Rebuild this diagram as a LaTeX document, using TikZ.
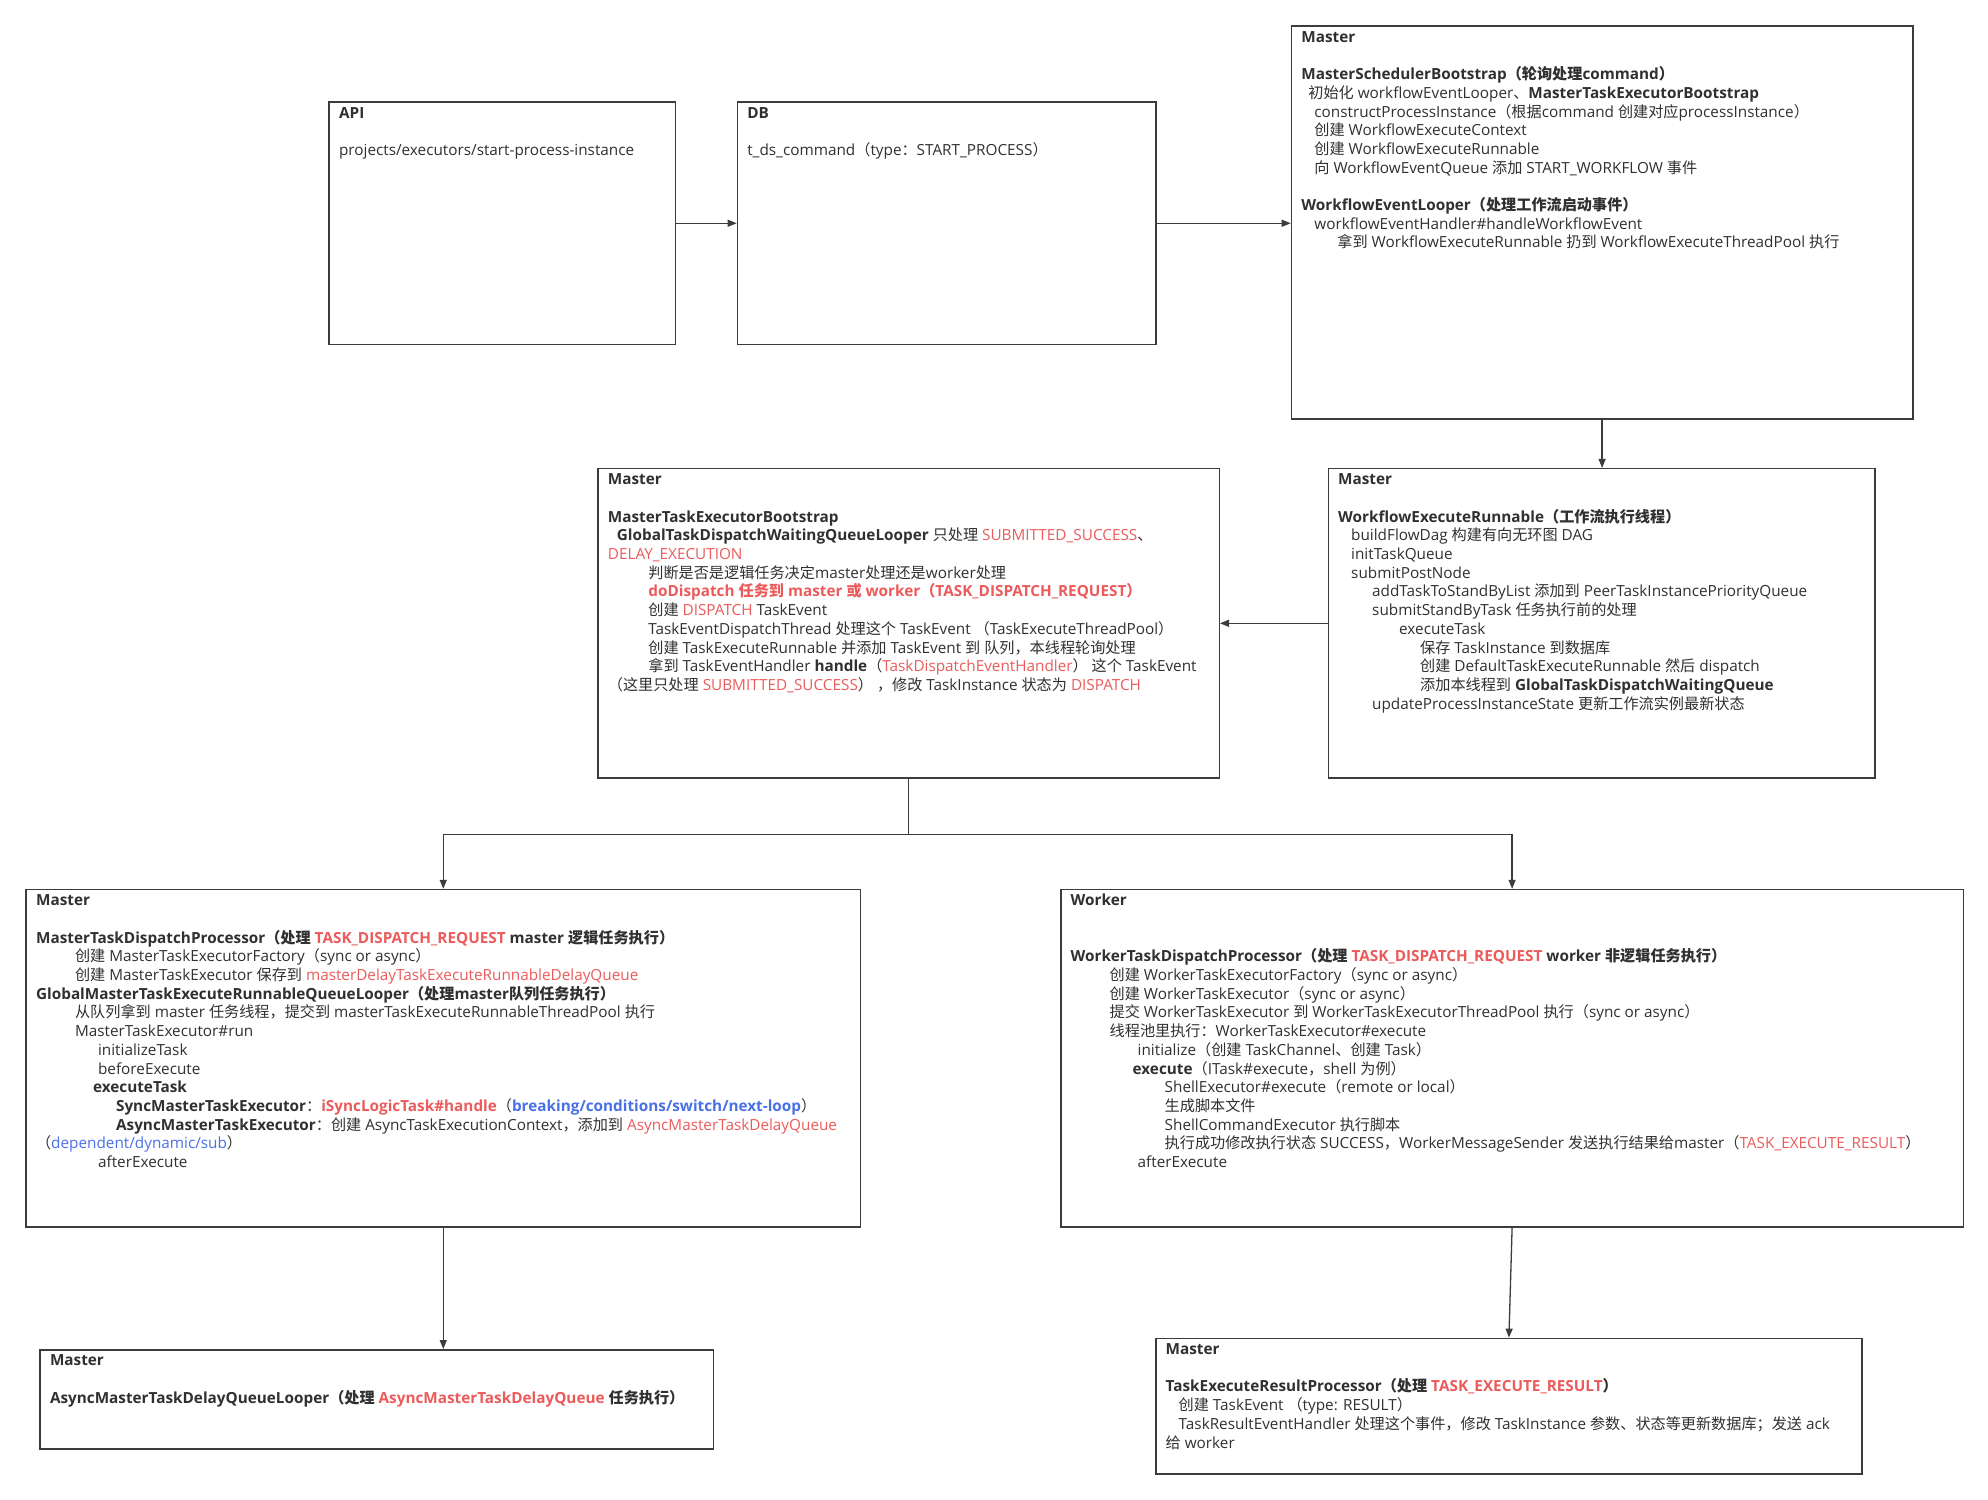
\documentclass[tikz,border=0pt]{standalone}
\usepackage{fontspec}
\setmainfont{Open Sans}
\newfontfamily\cjkf{Noto Sans CJK SC}[Scale=0.99]
\usetikzlibrary{arrows.meta}
\XeTeXinterchartokenstate=1
\newXeTeXintercharclass\CJKcls
\makeatletter
\count@="3000 \loop \XeTeXcharclass\count@=\CJKcls \advance\count@ 1 \ifnum\count@<"3040 \repeat
\count@="4E00 \loop \XeTeXcharclass\count@=\CJKcls \advance\count@ 1 \ifnum\count@<"A000 \repeat
\count@="FF00 \loop \XeTeXcharclass\count@=\CJKcls \advance\count@ 1 \ifnum\count@<"FFF0 \repeat
\makeatother
\XeTeXinterchartoks 0 \CJKcls = {\cjkf}
\XeTeXinterchartoks 4095 \CJKcls = {\cjkf}
\XeTeXinterchartoks \CJKcls 0 = {\rmfamily}
\XeTeXinterchartoks \CJKcls 4095 = {\rmfamily}
\definecolor{txtc}{HTML}{303030}
\definecolor{linec}{HTML}{3C3C3C}
\definecolor{redc}{HTML}{EC5B5B}
\definecolor{bluec}{HTML}{4A70E8}
\newcommand\ind[1]{\hspace*{#1pt}\ignorespaces}
\newcommand\rtx[1]{\textcolor{redc}{#1}}
\newcommand\btx[1]{\textcolor{bluec}{#1}}
\tikzset{
  box/.style={draw=linec, line width=1.5pt, rectangle, anchor=north west, inner sep=0pt, fill=white},
  txt/.style={anchor=north west, align=left, inner sep=0pt, text=txtc,
    font=\fontsize{15.3}{18.7}\selectfont},
  arr/.style={draw=linec, line width=1.3pt, -{Triangle[length=9pt,width=7pt]}}
}
\begin{document}
\begin{tikzpicture}[x=1pt,y=-1pt]
\fill[white] (0,0) rectangle (1988,1499);
\useasboundingbox (0,0) rectangle (1988,1499);

% boxes
\node[box, minimum width=346.1pt, minimum height=242.2pt] (api) at (328.4,101.4) {};
\node[box, minimum width=418.4pt, minimum height=242.2pt] (db) at (736.6,101.4) {};
\node[box, minimum width=621.3pt, minimum height=393pt] (m1) at (1290.7,25.4) {};
\node[box, minimum width=546.5pt, minimum height=309.3pt] (wer) at (1327.5,467.9) {};
\node[box, minimum width=621.3pt, minimum height=309.3pt] (mteb) at (597.2,467.9) {};
\node[box, minimum width=834.2pt, minimum height=337.2pt] (mtdp) at (25.4,888.8) {};
\node[box, minimum width=902.7pt, minimum height=337.2pt] (wkr) at (1060,888.8) {};
\node[box, minimum width=673.3pt, minimum height=99pt] (amt) at (39.3,1349) {};
\node[box, minimum width=706.3pt, minimum height=135.7pt] (terp) at (1155,1337.6) {};

% texts
\node[txt] (tapi) at ([shift={(10.5,3.6)}]api.north west) {\strut\textbf{API}\\ \mbox{}\\
projects/executors/start-process-instance};

\node[txt] (tdb) at ([shift={(10.5,3.6)}]db.north west) {\strut\textbf{DB}\\ \mbox{}\\
t\_ds\_command（type：START\_PROCESS）};

\node[txt] (tm1) at ([shift={(10.5,3.6)}]m1.north west) {\strut\textbf{Master}\\ \mbox{}\\
\textbf{MasterSchedulerBootstrap（轮询处理command）}\\
\ind{7} 初始化 workflowEventLooper、\textbf{MasterTaskExecutorBootstrap}\\
\ind{13} constructProcessInstance（根据command 创建对应processInstance）\\
\ind{13} 创建 WorkflowExecuteContext\\
\ind{13} 创建 WorkflowExecuteRunnable\\
\ind{13} 向 WorkflowEventQueue 添加 START\_WORKFLOW 事件\\
\mbox{}\\
\textbf{WorkflowEventLooper（处理工作流启动事件）}\\
\ind{13} workflowEventHandler\#handleWorkflowEvent\\
\ind{36} 拿到 WorkflowExecuteRunnable 扔到 WorkflowExecuteThreadPool 执行};

\node[txt] (twer) at ([shift={(10.5,3.6)}]wer.north west) {\strut\textbf{Master}\\ \mbox{}\\
\textbf{WorkflowExecuteRunnable（工作流执行线程）}\\
\ind{13} buildFlowDag 构建有向无环图 DAG\\
\ind{13} initTaskQueue\\
\ind{13} submitPostNode\\
\ind{34} addTaskToStandByList 添加到 PeerTaskInstancePriorityQueue\\
\ind{34} submitStandByTask 任务执行前的处理\\
\ind{61} executeTask\\
\ind{82} 保存 TaskInstance 到数据库\\
\ind{82} 创建 DefaultTaskExecuteRunnable 然后 dispatch\\
\ind{82} 添加本线程到 \textbf{GlobalTaskDispatchWaitingQueue}\\
\ind{34} updateProcessInstanceState 更新工作流实例最新状态};

\node[txt] (tmteb) at ([shift={(10.5,3.6)}]mteb.north west) {\strut\textbf{Master}\\ \mbox{}\\
\textbf{MasterTaskExecutorBootstrap}\\
\ind{9}\textbf{GlobalTaskDispatchWaitingQueueLooper} 只处理 \rtx{SUBMITTED\_SUCCESS}、\\
\rtx{DELAY\_EXECUTION}\\
\ind{40.5} 判断是否是逻辑任务决定master处理还是worker处理\\
\ind{40.5} \rtx{\textbf{doDispatch 任务到 master 或 worker（TASK\_DISPATCH\_REQUEST）}}\\
\ind{40.5} 创建 \rtx{DISPATCH} TaskEvent\\
\ind{40.5} TaskEventDispatchThread 处理这个 TaskEvent （TaskExecuteThreadPool）\\
\ind{40.5} 创建 TaskExecuteRunnable 并添加 TaskEvent 到 队列，本线程轮询处理\\
\ind{40.5} 拿到 TaskEventHandler \textbf{handle}（\rtx{TaskDispatchEventHandler}） 这个 TaskEvent\\
（这里只处理 \rtx{SUBMITTED\_SUCCESS}）\ ，修改 TaskInstance 状态为 \rtx{DISPATCH}};

\node[txt] (tmtdp) at ([shift={(10.5,3.6)}]mtdp.north west) {\strut\textbf{Master}\\ \mbox{}\\
\textbf{MasterTaskDispatchProcessor（处理 \rtx{TASK\_DISPATCH\_REQUEST} master 逻辑任务执行）}\\
\ind{39} 创建 MasterTaskExecutorFactory（sync or async）\\
\ind{39} 创建 MasterTaskExecutor 保存到 \rtx{masterDelayTaskExecuteRunnableDelayQueue}\\
\textbf{GlobalMasterTaskExecuteRunnableQueueLooper（处理master队列任务执行）}\\
\ind{39} 从队列拿到 master 任务线程，提交到 masterTaskExecuteRunnableThreadPool 执行\\
\ind{39} MasterTaskExecutor\#run\\
\ind{62} initializeTask\\
\ind{62} beforeExecute\\
\ind{57}\textbf{executeTask}\\
\ind{80}\textbf{SyncMasterTaskExecutor}：\rtx{\textbf{iSyncLogicTask\#handle}}（\btx{\textbf{breaking/conditions/switch/next-loop}}）\\
\ind{80}\textbf{AsyncMasterTaskExecutor}：创建 AsyncTaskExecutionContext，添加到 \rtx{AsyncMasterTaskDelayQueue}\\
（\btx{dependent/dynamic/sub}）\\
\ind{62} afterExecute};

\node[txt] (twkr) at ([shift={(10.5,3.6)}]wkr.north west) {\strut\textbf{Worker}\\ \mbox{}\\ \mbox{}\\
\textbf{WorkerTaskDispatchProcessor（处理 \rtx{TASK\_DISPATCH\_REQUEST} worker 非逻辑任务执行）}\\
\ind{39} 创建 WorkerTaskExecutorFactory（sync or async）\\
\ind{39} 创建 WorkerTaskExecutor（sync or async）\\
\ind{39} 提交 WorkerTaskExecutor 到 WorkerTaskExecutorThreadPool 执行（sync or async）\\
\ind{39} 线程池里执行：WorkerTaskExecutor\#execute\\
\ind{67} initialize（创建 TaskChannel、创建 Task）\\
\ind{62}\textbf{execute}（ITask\#execute，shell 为例）\\
\ind{94} ShellExecutor\#execute（remote or local）\\
\ind{94} 生成脚本文件\\
\ind{94} ShellCommandExecutor 执行脚本\\
\ind{94} 执行成功修改执行状态 SUCCESS，WorkerMessageSender 发送执行结果给master（\rtx{TASK\_EXECUTE\_RESULT}）\\
\ind{67} afterExecute};

\node[txt] (tamt) at ([shift={(10.5,3.6)}]amt.north west) {\strut\textbf{Master}\\ \mbox{}\\
\textbf{AsyncMasterTaskDelayQueueLooper（处理 \rtx{AsyncMasterTaskDelayQueue} 任务执行）}};

\node[txt] (tterp) at ([shift={(10.5,3.6)}]terp.north west) {\strut\textbf{Master}\\ \mbox{}\\
\textbf{TaskExecuteResultProcessor（处理 \rtx{TASK\_EXECUTE\_RESULT}）}\\
\ind{13} 创建 TaskEvent （type: RESULT）\\
\ind{13} TaskResultEventHandler 处理这个事件，修改 TaskInstance 参数、状态等更新数据库；发送 ack\\
给 worker};

% connectors
\draw[arr] (api.east) -- (db.west);
\draw[arr] (db.east) -- (db.east -| m1.west);
\draw[arr] (m1.south) -- (m1.south |- wer.north);
\draw[arr] (wer.west) -- (wer.west -| mteb.east);
\coordinate (split) at ([shift={(0,55.8)}]mteb.south);
\draw[arr] (mteb.south) -- (split) -| (mtdp.north);
\draw[arr] (split) -| (wkr.north);
\draw[arr] (mtdp.south) -- (mtdp.south |- amt.north);
\draw[arr] (wkr.south) -- (terp.north);
\end{tikzpicture}
\end{document}
